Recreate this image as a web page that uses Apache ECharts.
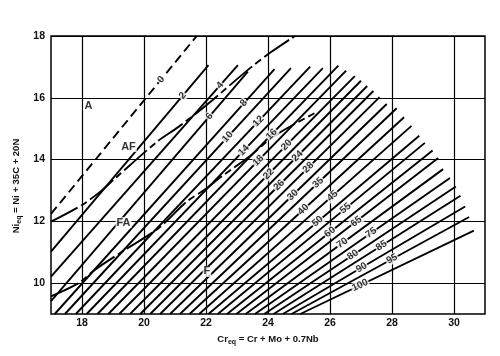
<!DOCTYPE html>
<html><head><meta charset="utf-8">
<script src="https://cdn.jsdelivr.net/npm/echarts@6/dist/echarts.min.js"></script>
<style>html,body{margin:0;padding:0;background:#fff}#c{width:500px;height:356px}</style>
</head><body><div id="c"></div>
<script>
// Axis tick labels / grid lines
const xTicks = [18, 20, 22, 24, 26, 28, 30];
const yTicks = [10, 12, 14, 16, 18];

// Iso-ferrite-number lines (FN), each from its lower end to its upper end
const isoFN   = [0, 2, 4, 6, 8, 10, 12, 14, 16, 18, 20, 22, 24, 26, 28, 30, 35, 40, 45, 50, 55, 60, 65, 70, 75, 80, 85, 90, 95, 100];
const startCr = [17, 17, 17, 17, 17.12, 17.45, 17.80, 18.15, 18.50, 18.85, 19.20, 19.55, 19.88, 20.20, 20.52, 20.84, 21.16, 21.47, 21.78, 22.08, 22.38, 22.68, 22.98, 23.28, 23.58, 23.88, 24.18, 24.48, 24.76, 25.04];
const startNi = [12.24, 11.02, 10.21, 9.42, 9, 9, 9, 9, 9, 9, 9, 9, 9, 9, 9, 9, 9, 9, 9, 9, 9, 9, 9, 9, 9, 9, 9, 9, 9, 9];
const endCr   = [21.70, 22.08, 23.03, 23.35, 24.21, 24.74, 25.36, 25.77, 26.27, 26.52, 26.80, 27.00, 27.20, 27.40, 27.60, 27.83, 28.15, 28.39, 28.63, 28.88, 29.06, 29.31, 29.49, 29.65, 29.87, 30.06, 30.21, 30.36, 30.49, 30.64];
const endNi   = [18.0, 17.06, 17.06, 16.85, 16.93, 16.96, 17.01, 16.96, 17.04, 16.88, 16.70, 16.55, 16.38, 16.22, 16.02, 15.80, 15.66, 15.37, 15.09, 14.77, 14.54, 14.29, 14.05, 13.69, 13.40, 13.13, 12.83, 12.48, 12.14, 11.70];
// Where each FN number is written on its line
const labelCr = [20.55, 21.25, 22.45, 22.11, 23.22, 22.70, 23.69, 23.22, 24.12, 23.69, 24.60, 24.02, 24.95, 24.36, 25.30, 24.80, 25.62, 25.14, 26.08, 25.60, 26.50, 26.00, 26.85, 26.40, 27.33, 26.74, 27.66, 27.02, 28.00, 26.97];
const labelNi = [16.59, 16.07, 16.40, 15.40, 15.83, 14.73, 15.24, 14.30, 14.82, 13.97, 14.47, 13.53, 14.11, 13.17, 13.74, 12.85, 13.25, 12.38, 12.82, 12.00, 12.42, 11.65, 11.99, 11.30, 11.63, 10.91, 11.21, 10.50, 10.78, 9.93];

// Phase boundaries
const afBoundCr = [17.0, 18.0, 18.6, 19.1, 20.45, 21.1, 22.0, 23.42, 24.1, 24.87];
const afBoundNi = [11.99, 12.53, 12.97, 13.42, 14.6, 15.05, 15.75, 16.96, 17.48, 18.0];
const fBoundCr  = [17.0, 17.89, 18.4, 19.3, 20.47, 21.38, 21.95, 22.5, 23.4, 23.96, 24.5, 25.5];
const fBoundNi  = [9.57, 10.0, 10.42, 11.02, 11.78, 12.64, 13.02, 13.45, 14.1, 14.58, 14.95, 15.5];

// Region labels
const regionNames = ['A', 'AF', 'FA', 'F'];
const regionCr = [18.21, 19.50, 19.34, 22.03];
const regionNi = [15.74, 14.42, 11.96, 10.38];

const FONT = '"Liberation Sans", Arial, Helvetica, sans-serif';
const chart = echarts.init(document.getElementById('c'), null, {renderer: 'canvas'});
const GX = 31.03, GY = 30.9; // px per unit (for label rotation)

const series = [];
series.push({
  type: 'line', data: [], silent: true, z: 1,
  markLine: {
    silent: true, symbol: ['none', 'none'], animation: false,
    label: {show: false},
    lineStyle: {color: '#000', width: 1.2, type: 'solid'},
    data: xTicks.map(v => ({xAxis: v})).concat(yTicks.map(v => ({yAxis: v})))
  }
});
isoFN.forEach((fn, i) => {
  series.push({
    type: 'line', silent: true, z: 3, symbol: 'none', showSymbol: false,
    data: [[startCr[i], startNi[i]], [endCr[i], endNi[i]]],
    lineStyle: {color: '#000', width: 1.9, type: fn === 0 ? [9, 5] : 'solid', cap: 'butt'}
  });
});
[[afBoundCr, afBoundNi], [fBoundCr, fBoundNi]].forEach(([cx, ny]) => {
  series.push({
    type: 'line', silent: true, z: 3, symbol: 'none', showSymbol: false, smooth: 0.3,
    data: cx.map((c, i) => [c, ny[i]]),
    lineStyle: {color: '#000', width: 1.9, type: [30, 4, 7, 4]}
  });
});
series.push({
  type: 'scatter', silent: true, z: 6, symbolSize: 0,
  data: isoFN.map((fn, i) => {
    const ang = Math.atan(((endNi[i] - startNi[i]) * GY) / ((endCr[i] - startCr[i]) * GX)) * 180 / Math.PI;
    return {value: [labelCr[i], labelNi[i]], label: {rotate: ang, formatter: String(fn)}};
  }),
  label: {show: true, position: 'inside', color: '#000', fontSize: 10, fontWeight: 'bold',
          fontFamily: FONT, backgroundColor: '#fff', padding: [0, 1]}
});
series.push({
  type: 'scatter', silent: true, z: 6, symbolSize: 0,
  data: regionNames.map((n, i) => ({value: [regionCr[i], regionNi[i]], name: n})),
  label: {show: true, position: 'inside', formatter: p => p.name, color: '#000', fontSize: 11,
          fontWeight: 'bold', fontFamily: FONT, backgroundColor: '#fff', padding: [0, 1]}
});

chart.setOption({
  animation: false,
  backgroundColor: '#fff',
  grid: {left: 51, right: 15, top: 36, bottom: 42, show: true, borderColor: '#000', borderWidth: 1.5, backgroundColor: 'transparent'},
  xAxis: {
    type: 'value', min: 17, max: 31, interval: 1,
    axisLine: {show: false}, axisTick: {show: false}, splitLine: {show: false},
    axisLabel: {formatter: v => xTicks.includes(v) ? String(v) : '', color: '#111', fontSize: 10.5, fontWeight: 'bold', fontFamily: FONT, margin: 4},
    name: '{n|Cr}{s|eq}{n| = Cr + Mo + 0.7Nb}', nameLocation: 'middle', nameGap: 19,
    nameTextStyle: {color: '#111', rich: {
      n: {fontSize: 9.5, fontWeight: 'bold', fontFamily: FONT, color: '#111', lineHeight: 13},
      s: {fontSize: 7, fontWeight: 'bold', fontFamily: FONT, color: '#111', lineHeight: 13, verticalAlign: 'bottom', padding: [5, 0, 0, 0]}
    }}
  },
  yAxis: {
    type: 'value', min: 9, max: 18, interval: 1,
    axisLine: {show: false}, axisTick: {show: false}, splitLine: {show: false},
    axisLabel: {formatter: v => yTicks.includes(v) ? String(v) : '', color: '#111', fontSize: 10.5, fontWeight: 'bold', fontFamily: FONT, margin: 6},
    name: '{n|Ni}{s|eq}{n| = Ni + 35C + 20N}', nameLocation: 'middle', nameGap: 22, nameRotate: 90,
    nameTextStyle: {color: '#111', padding: [0, 22, 0, 0], rich: {
      n: {fontSize: 9.5, fontWeight: 'bold', fontFamily: FONT, color: '#111', lineHeight: 13},
      s: {fontSize: 7, fontWeight: 'bold', fontFamily: FONT, color: '#111', lineHeight: 13, verticalAlign: 'bottom', padding: [5, 0, 0, 0]}
    }}
  },
  series: series
});
</script></body></html>
